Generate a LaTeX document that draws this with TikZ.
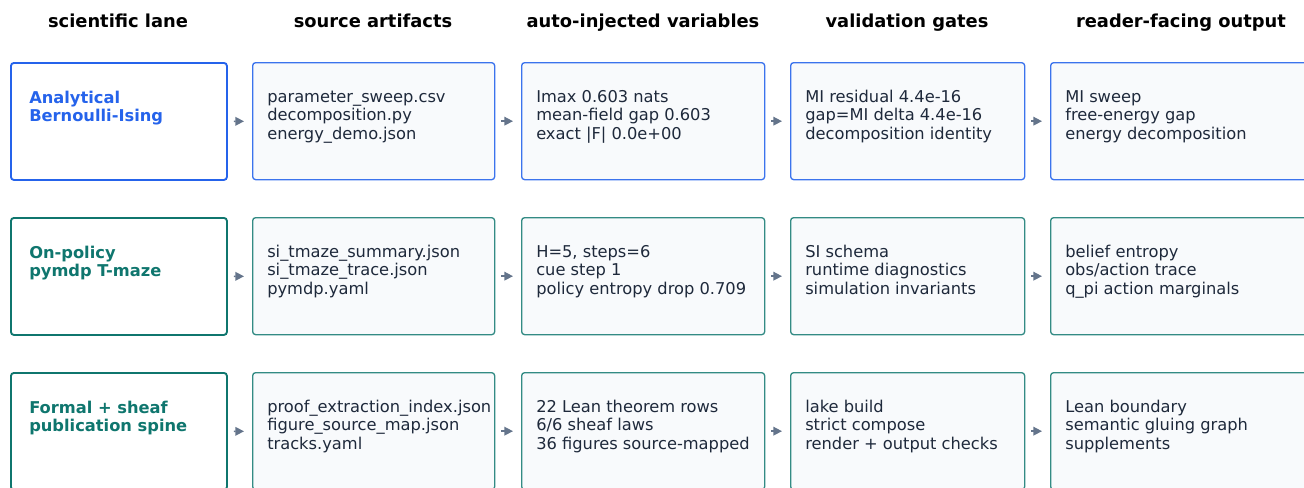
\documentclass[tikz,border=0pt]{standalone}
\usepackage{fontspec}
\setmainfont{DejaVu Sans}
\usetikzlibrary{arrows.meta,positioning}
\definecolor{laneblue}{HTML}{2563EB}
\definecolor{laneteal}{HTML}{0F766E}
\definecolor{cardfill}{HTML}{F8FAFC}
\definecolor{flowgray}{HTML}{64748B}
\definecolor{inktext}{HTML}{1E293B}

\begin{document}
\begin{tikzpicture}[x=0.75pt,y=-0.75pt,
  head/.style={anchor=base,font=\fontsize{13.4}{16}\selectfont\bfseries,text=black},
  cardbox/.style={rounded corners=2.25pt,anchor=north west,minimum height=87.75pt,inner sep=0pt},
  lanebox/.style={cardbox,line width=1.4pt,fill=white,minimum width=162pt},
  card/.style={cardbox,line width=1pt,fill=cardfill},
  lanetext/.style={anchor=north west,inner sep=0pt,align=left,font=\fontsize{12.2}{13.9}\selectfont\bfseries},
  cardtext/.style={anchor=north west,inner sep=0pt,align=left,text=inktext,font=\fontsize{12.2}{13.9}\selectfont},
  flow/.style={-{Triangle[length=6.5pt,width=6.5pt]},line width=1.1pt,draw=flowgray,fill=flowgray,shorten <=4.5pt,shorten >=6pt}]
  \useasboundingbox (0,0) rectangle (1304,487);
  \node[head] (h1) at (118,27) {scientific lane};
  \node[head] (h2) at (373,27) {source artifacts};
  \node[head] (h3) at (643,27) {auto-injected variables};
  \node[head] (h4) at (907,27) {validation gates};
  \node[head] (h5) at (1181,27) {reader-facing output};

  % analytical lane
  \node[lanebox,draw=laneblue] (lane1) at (10,62) {};
  \node[card,draw=laneblue!90,minimum width=181.5pt] (src1) at (252,62) {};
  \node[card,draw=laneblue!90,minimum width=182.25pt] (var1) at (521,62) {};
  \node[card,draw=laneblue!90,minimum width=175.5pt] (gate1) at (790,62) {};
  \node[card,draw=laneblue!90,minimum width=196.5pt] (out1) at (1050,62) {};
  \node[lanetext,text=laneblue] (lane1t) at ([shift={(19,28)}]lane1.north west) {\strut Analytical\\Bernoulli-Ising};
  \node[cardtext] (src1t) at ([shift={(15,27)}]src1.north west) {\strut parameter\_sweep.csv\\decomposition.py\\energy\_demo.json};
  \node[cardtext] (var1t) at ([shift={(15,27)}]var1.north west) {\strut Imax 0.603 nats\\mean-field gap 0.603\\exact |F| 0.0e+00};
  \node[cardtext] (gate1t) at ([shift={(15,27)}]gate1.north west) {\strut MI residual 4.4e-16\\gap=MI delta 4.4e-16\\decomposition identity};
  \node[cardtext] (out1t) at ([shift={(15,27)}]out1.north west) {\strut MI sweep\\free-energy gap\\energy decomposition};

  % on-policy lane
  \node[lanebox,draw=laneteal] (lane2) at (10,217) {};
  \node[card,draw=laneteal!85,minimum width=181.5pt] (src2) at (252,217) {};
  \node[card,draw=laneteal!85,minimum width=182.25pt] (var2) at (521,217) {};
  \node[card,draw=laneteal!85,minimum width=175.5pt] (gate2) at (790,217) {};
  \node[card,draw=laneteal!85,minimum width=196.5pt] (out2) at (1050,217) {};
  \node[lanetext,text=laneteal] (lane2t) at ([shift={(19,28)}]lane2.north west) {\strut On-policy\\pymdp T-maze};
  \node[cardtext] (src2t) at ([shift={(15,27)}]src2.north west) {\strut si\_tmaze\_summary.json\\si\_tmaze\_trace.json\\pymdp.yaml};
  \node[cardtext] (var2t) at ([shift={(15,27)}]var2.north west) {\strut H=5, steps=6\\cue step 1\\policy entropy drop 0.709};
  \node[cardtext] (gate2t) at ([shift={(15,27)}]gate2.north west) {\strut SI schema\\runtime diagnostics\\simulation invariants};
  \node[cardtext] (out2t) at ([shift={(15,27)}]out2.north west) {\strut belief entropy\\obs/action trace\\q\_pi action marginals};

  % formal lane
  \node[lanebox,draw=laneteal] (lane3) at (10,372) {};
  \node[card,draw=laneteal!85,minimum width=181.5pt] (src3) at (252,372) {};
  \node[card,draw=laneteal!85,minimum width=182.25pt] (var3) at (521,372) {};
  \node[card,draw=laneteal!85,minimum width=175.5pt] (gate3) at (790,372) {};
  \node[card,draw=laneteal!85,minimum width=196.5pt] (out3) at (1050,372) {};
  \node[lanetext,text=laneteal] (lane3t) at ([shift={(19,28)}]lane3.north west) {\strut Formal + sheaf\\publication spine};
  \node[cardtext] (src3t) at ([shift={(15,27)}]src3.north west) {\strut proof\_extraction\_index.json\\figure\_source\_map.json\\tracks.yaml};
  \node[cardtext] (var3t) at ([shift={(15,27)}]var3.north west) {\strut 22 Lean theorem rows\\6/6 sheaf laws\\36 figures source-mapped};
  \node[cardtext] (gate3t) at ([shift={(15,27)}]gate3.north west) {\strut lake build\\strict compose\\render + output checks};
  \node[cardtext] (out3t) at ([shift={(15,27)}]out3.north west) {\strut Lean boundary\\semantic gluing graph\\supplements};

  \foreach \r in {1,2,3}{
    \draw[flow] (lane\r) -- (src\r);
    \draw[flow] (src\r) -- (var\r);
    \draw[flow] (var\r) -- (gate\r);
    \draw[flow] (gate\r) -- (out\r);
  }
\end{tikzpicture}
\end{document}
